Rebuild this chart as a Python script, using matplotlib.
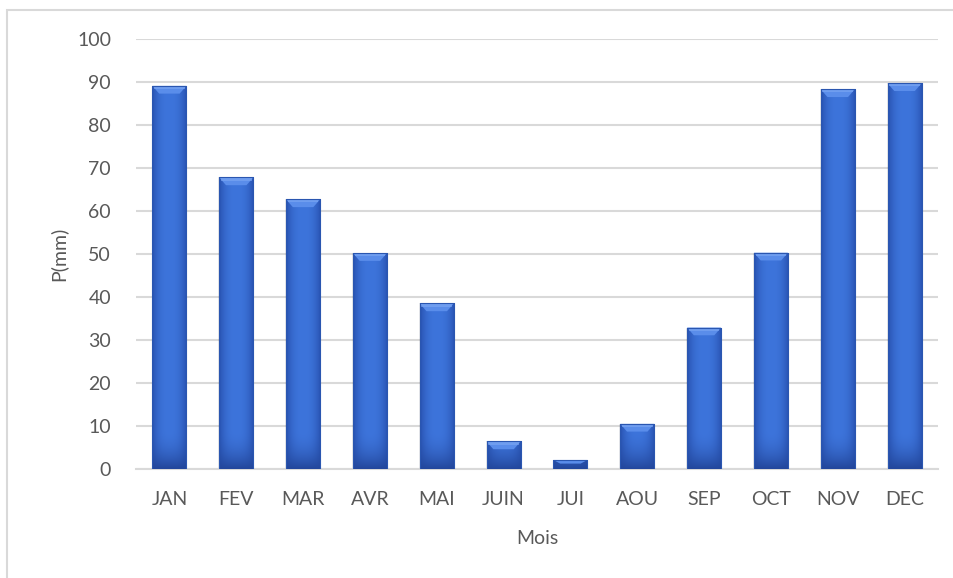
import numpy as np
import matplotlib.pyplot as plt
from matplotlib.patches import Polygon, Rectangle
from matplotlib.colors import to_rgb

# monthly precipitation (mm)
mois = ['JAN', 'FEV', 'MAR', 'AVR', 'MAI', 'JUIN', 'JUI', 'AOU', 'SEP', 'OCT', 'NOV', 'DEC']
precip = [89.1, 67.8, 62.7, 50.2, 38.5, 6.4, 2.1, 10.5, 32.9, 50.3, 88.3, 89.7]
yticks = [0, 10, 20, 30, 40, 50, 60, 70, 80, 90, 100]

plt.rcParams['font.family'] = ['Lato', 'DejaVu Sans']
txt = '#595959'
grid = '#D9D9D9'

fig = plt.figure(figsize=(9.54, 5.78), dpi=100)
ax = fig.add_axes([136 / 954, 1 - 469 / 578, (938 - 136) / 954, (469 - 39) / 578])

# outer chart frame (cut off on the right and bottom)
fig.patches.append(Rectangle((7 / 954, -0.5), 2, 1.5 - 10 / 578, transform=fig.transFigure,
                             fill=False, edgecolor=grid, lw=1.5, zorder=0))

x = np.arange(len(mois))
bw = 0.51
bars = ax.bar(x, precip, width=bw, color='none', zorder=3)

c_mid = np.array(to_rgb('#3D74DB'))
c_edge = np.array(to_rgb('#2852B0'))
c_bot = np.array(to_rgb('#23479C'))
c_top = np.array(to_rgb('#5A8DEA'))
c_top2 = np.array(to_rgb('#7EA8F3'))

for b in bars:
    x0, w, h = b.get_x(), b.get_width(), b.get_height()
    # soft shadow
    ax.add_patch(Rectangle((x0 - 0.012, -0.6), w + 0.024, h + 0.6, facecolor='#000000',
                           alpha=0.08, lw=0, zorder=2))
    # shaded face: darker at the sides and toward the base
    nx, ny = 60, 200
    t = np.linspace(0, 1, nx)
    side = np.abs(2 * t - 1) ** 2.5
    yy = np.linspace(0, h, ny)
    low = np.clip(1 - yy / 9.0, 0, 1) ** 2
    img = c_mid[None, None, :] * (1 - side[None, :, None]) + c_edge[None, None, :] * side[None, :, None]
    img = img * (1 - low[:, None, None]) + c_bot[None, None, :] * low[:, None, None]
    im = ax.imshow(img, origin='lower', extent=[x0, x0 + w, 0, h], aspect='auto',
                   interpolation='bilinear', zorder=3)
    im.set_clip_path(b)
    # bevel on top
    dy = min(1.8, h * 0.4)
    dx = min(0.11, w * 0.2)
    ax.add_patch(Polygon([[x0, h], [x0 + w, h], [x0 + w - dx, h - dy], [x0 + dx, h - dy]],
                         closed=True, facecolor=c_top, lw=0, zorder=4))
    ax.add_patch(Rectangle((x0 + dx * 0.25, h - dy * 0.4), w - dx * 0.5, dy * 0.3,
                           facecolor=c_top2, lw=0, alpha=0.6, zorder=4))
    ax.add_patch(Rectangle((x0, 0), w, h, fill=False, edgecolor='#2A56B0', lw=0.8, zorder=5))

ax.set_xlim(-0.5, len(mois) - 0.5)
ax.set_ylim(0, 100)
ax.set_yticks(yticks)
ax.set_xticks(x)
ax.set_xticklabels(mois)
ax.yaxis.grid(True, color=grid, lw=1.5, zorder=0)
ax.set_axisbelow(True)
for s in ['top', 'right', 'left']:
    ax.spines[s].set_visible(False)
ax.spines['bottom'].set_color(grid)
ax.spines['bottom'].set_linewidth(1.5)
ax.tick_params(axis='both', length=0, labelsize=14, labelcolor=txt)
ax.tick_params(axis='x', pad=16)
ax.tick_params(axis='y', pad=18)
ax.set_xlabel('Mois', fontsize=14, color=txt, labelpad=16)
ax.set_ylabel('P(mm)', fontsize=14, color=txt, labelpad=7)

fig.savefig('out.png', dpi=100)
